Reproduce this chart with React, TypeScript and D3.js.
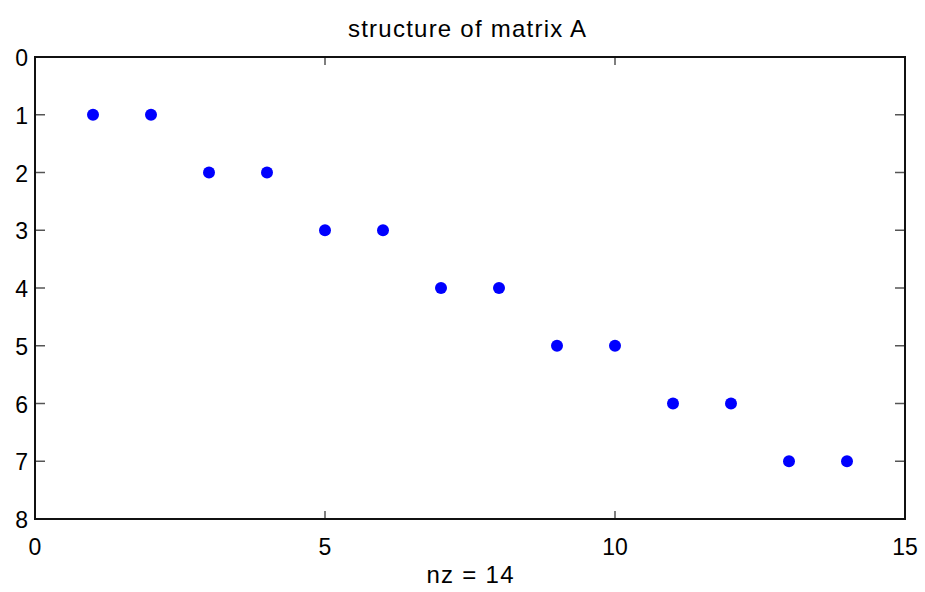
import React from "react";
import * as d3 from "d3";

const cols = [1, 2, 3, 4, 5, 6, 7, 8, 9, 10, 11, 12, 13, 14];
const rows = [1, 1, 2, 2, 3, 3, 4, 4, 5, 5, 6, 6, 7, 7];
const xTicks = [0, 5, 10, 15];
const yTicks = [0, 1, 2, 3, 4, 5, 6, 7, 8];
const title = "structure of matrix A";
const xLabel = "nz = 14";

export default function App() {
  const W = 925, H = 592;
  const L = 35, R = 905, T = 57, B = 519;
  const x = d3.scaleLinear().domain([0, 15]).range([L, R]);
  const y = d3.scaleLinear().domain([0, 8]).range([T, B]);
  const font = "Liberation Sans, Arial, sans-serif";
  return (
    <svg width={W} height={H} style={{ position: "absolute", left: 0, top: 0, background: "#fff" }}>
      <rect x={0} y={0} width={W} height={H} fill="#fff" />
      {yTicks.map((t) => (
        <g key={"y" + t}>
          <line x1={L} x2={L + 10} y1={y(t)} y2={y(t)} stroke="#555" strokeWidth={1.5} />
          <line x1={R} x2={R - 10} y1={y(t)} y2={y(t)} stroke="#555" strokeWidth={1.5} />
          <text x={L - 7} y={y(t) + 9} textAnchor="end" fontFamily={font} fontSize={23} fill="#000">{t}</text>
        </g>
      ))}
      {xTicks.map((t) => (
        <g key={"x" + t}>
          <line x1={x(t)} x2={x(t)} y1={B} y2={B - 8} stroke="#555" strokeWidth={1.5} />
          <line x1={x(t)} x2={x(t)} y1={T} y2={T + 8} stroke="#555" strokeWidth={1.5} />
          <text x={x(t)} y={555} textAnchor="middle" fontFamily={font} fontSize={23} fill="#000">{t}</text>
        </g>
      ))}
      <rect x={L} y={T} width={R - L} height={B - T} fill="none" stroke="#111" strokeWidth={2} />
      {cols.map((c, i) => (
        <circle key={i} cx={x(c)} cy={y(rows[i])} r={6} fill="#0000ff" />
      ))}
      <text x={(L + R) / 2 - 3} y={37} textAnchor="middle" fontFamily={font} fontSize={24} textLength={238} lengthAdjust="spacing" fill="#000">{title}</text>
      <text x={(L + R) / 2} y={583} textAnchor="middle" fontFamily={font} fontSize={24} textLength={87} lengthAdjust="spacing" fill="#000">{xLabel}</text>
    </svg>
  );
}
